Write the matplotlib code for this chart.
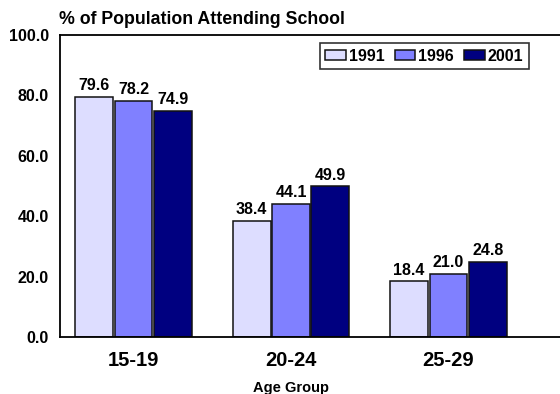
import matplotlib
matplotlib.use("Agg")
import matplotlib.pyplot as plt
import numpy as np

plt.rcParams['font.family'] = ['Liberation Sans', 'DejaVu Sans']
plt.rcParams['font.weight'] = 'bold'

age_groups = ["15-19", "20-24", "25-29"]
years = ["1991", "1996", "2001"]
pct_1991 = [79.6, 38.4, 18.4]
pct_1996 = [78.2, 44.1, 21.0]
pct_2001 = [74.9, 49.9, 24.8]
colors = ["#DDDDFF", "#8080FF", "#000080"]

fig = plt.figure(figsize=(5.6, 3.94), dpi=100)
ax = fig.add_axes([60/560, 1-337/394, 1-60/560, (337-35)/394])

x = np.arange(len(age_groups))
width = 0.24
step = 0.25
series = [pct_1991, pct_1996, pct_2001]
for i, vals in enumerate(series):
    pos = x + (i - 1) * step
    bars = ax.bar(pos, vals, width, color=colors[i], edgecolor="#111111",
                  linewidth=1.1, label=years[i])
    for b, v in zip(bars, vals):
        ax.text(b.get_x() + b.get_width()/2, v + 1.2, "%.1f" % v,
                ha="center", va="bottom", fontsize=11.5, fontweight="bold")

ax.set_xlim(-0.467, 2.708)
ax.set_ylim(0, 100)
ax.set_yticks(np.arange(0, 101, 20))
ax.set_yticklabels(["%.1f" % v for v in np.arange(0, 101, 20)], fontsize=11.5, fontweight="bold")
ax.set_xticks(x)
ax.set_xticklabels(age_groups, fontsize=14.5, fontweight="bold")
ax.tick_params(axis="y", length=0, pad=8)
ax.tick_params(axis="x", length=0, pad=10)
ax.spines["right"].set_visible(False)
for s in ["left", "top", "bottom"]:
    ax.spines[s].set_linewidth(1.3)

fig.text(291/560, 1-388/394, "Age Group", fontsize=10.5, fontweight="bold",
         ha="center", va="center")
fig.text(59/560, 1-19/394, "% of Population Attending School", fontsize=12.8,
         fontweight="bold", ha="left", va="center")

leg = ax.legend(loc="upper right", bbox_to_anchor=((529-60)/500, 1-(43-35)/302),
                ncol=3, fontsize=11.5, frameon=True, fancybox=False,
                handlelength=1.3, handleheight=0.55, handletextpad=0.2,
                columnspacing=0.6, borderpad=0.35, borderaxespad=0)
leg.get_frame().set_edgecolor("black")
leg.get_frame().set_linewidth(1.2)
for t in leg.get_texts():
    t.set_fontweight("bold")

fig.savefig("out.png", dpi=100)
